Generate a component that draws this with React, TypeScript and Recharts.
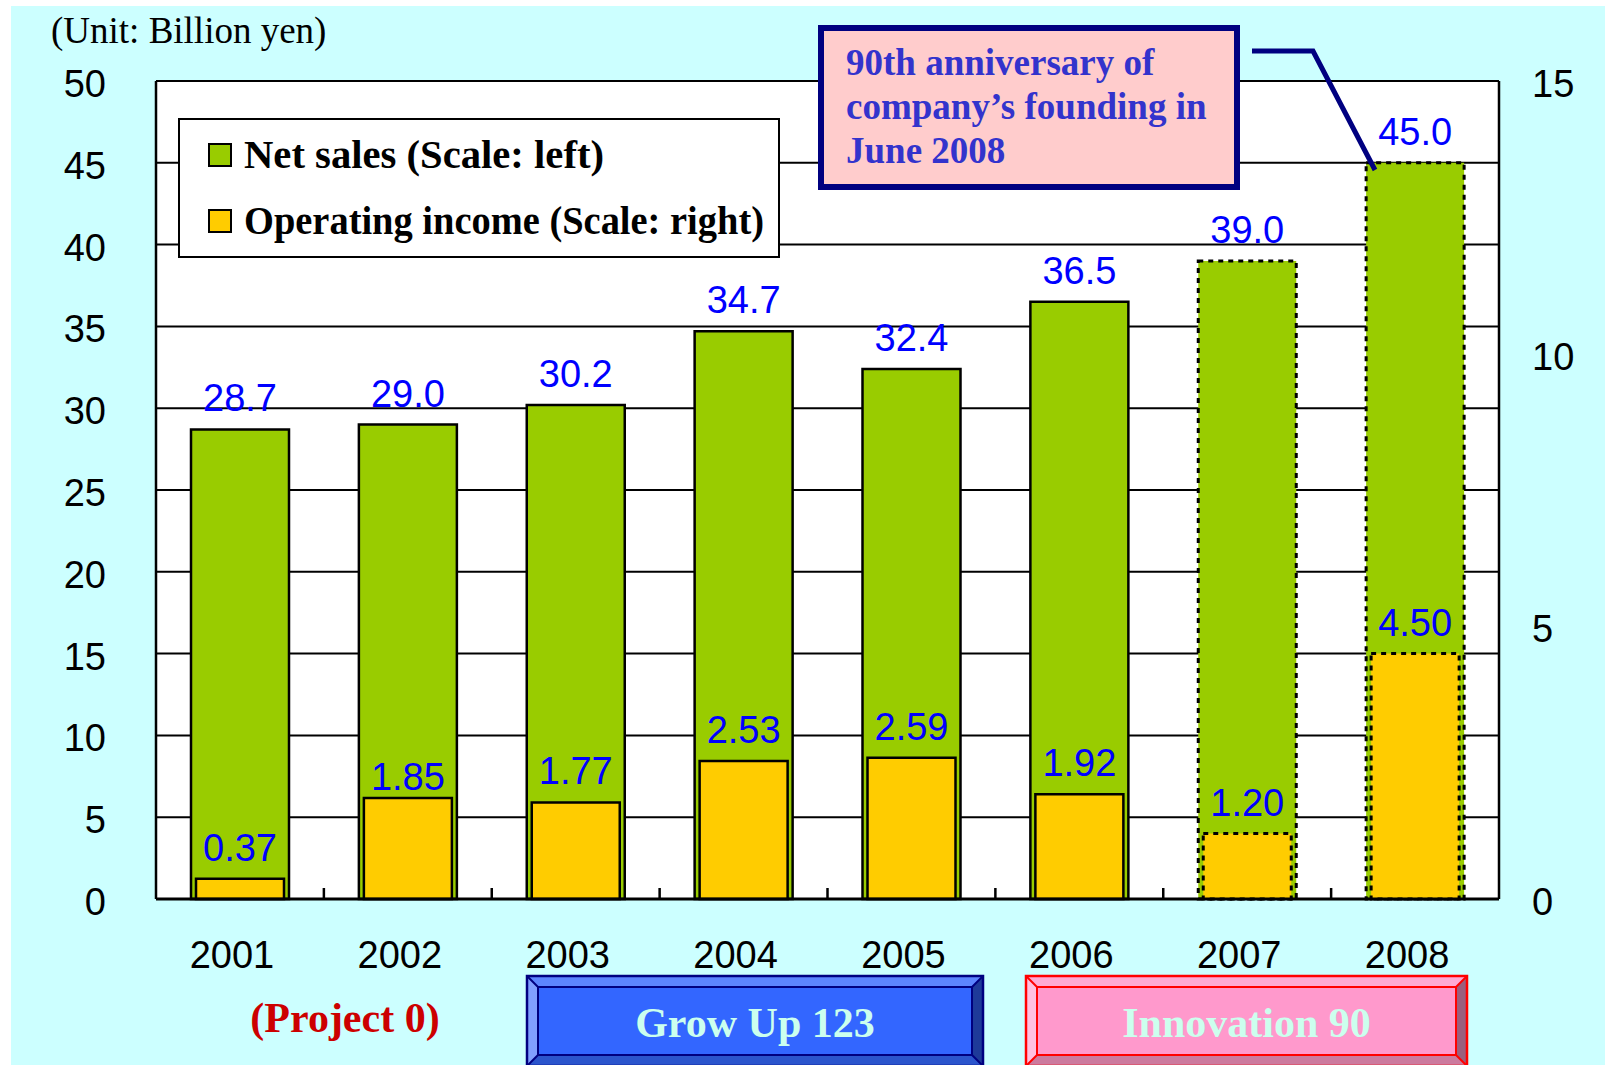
import React from 'react';
import { BarChart, Bar, XAxis, YAxis, CartesianGrid, Cell, LabelList, Legend } from 'recharts';

const years = ['2001', '2002', '2003', '2004', '2005', '2006', '2007', '2008'];
const netSales = [28.7, 29.0, 30.2, 34.7, 32.4, 36.5, 39.0, 45.0];
const operatingIncome = [0.37, 1.85, 1.77, 2.53, 2.59, 1.92, 1.2, 4.5];
const isForecast = [false, false, false, false, false, false, true, true];
const leftTicks = [0, 5, 10, 15, 20, 25, 30, 35, 40, 45, 50];
const rightTicks = [0, 5, 10, 15];
const seriesNames = ['Net sales (Scale: left)', 'Operating income (Scale: right)'];
const annotationLines = ['90th anniversary of', 'company\u2019s founding in', 'June 2008'];

const data = years.map((year, i) => ({
  year,
  sales: netSales[i],
  income: operatingIncome[i],
  salesLabel: netSales[i].toFixed(1),
  incomeLabel: operatingIncome[i].toFixed(2),
}));

const W = 1605;
const H = 1065;
const PLOT_LEFT = 156;
const PLOT_RIGHT = 1499;
const PLOT_TOP = 81;
const PLOT_BOTTOM = 899;
const BAND = (PLOT_RIGHT - PLOT_LEFT) / years.length;
const LEGEND_TEXT_LEN = [360, 520];

const SANS = '"Liberation Sans", Arial, sans-serif';
const SERIF = '"Liberation Serif", "Times New Roman", serif';
const GREEN = '#99CC00';
const YELLOW = '#FFCC00';
const LABEL_BLUE = '#0000FF';

const XTick = (props: any) => {
  const { x, y, payload, index } = props;
  return (
    <g>
      {index > 0 && (
        <line x1={x - BAND / 2} x2={x - BAND / 2} y1={PLOT_BOTTOM} y2={PLOT_BOTTOM - 11} stroke="#000" strokeWidth={2.5} />
      )}
      <text x={x - 8} y={y + 27} textAnchor="middle" fontFamily={SANS} fontSize={38} fill="#000">
        {payload.value}
      </text>
    </g>
  );
};

const LeftTick = (props: any) => {
  const { x, y, payload } = props;
  return (
    <text x={x} y={y + 16} textAnchor="end" fontFamily={SANS} fontSize={38} fill="#000">
      {payload.value}
    </text>
  );
};

const RightTick = (props: any) => {
  const { x, y, payload } = props;
  return (
    <text x={x} y={y + 16} textAnchor="start" fontFamily={SANS} fontSize={38} fill="#000">
      {payload.value}
    </text>
  );
};

const IncomeLabel = (props: any) => {
  const { x, y, width, value, index } = props;
  const off = index === 1 ? 8 : 18;
  return (
    <text x={x + width / 2} y={y - off} textAnchor="middle" fontFamily={SANS} fontSize={38} fill={LABEL_BLUE}>
      {value}
    </text>
  );
};

const LegendBox = (props: any) => {
  const payload = props.payload || [];
  return (
    <svg width={602} height={140} style={{ display: 'block' }}>
      <rect x={1} y={1} width={600} height={138} fill="#fff" stroke="#000" strokeWidth={2} />
      {payload.map((p: any, i: number) => (
        <g key={i}>
          <rect x={31} y={26 + i * 66} width={22} height={22} fill={p.color} stroke="#000" strokeWidth={2} />
          <text
            x={66}
            y={50 + i * 66}
            fontFamily={SERIF}
            fontWeight="bold"
            fontSize={39}
            fill="#000"
            textLength={LEGEND_TEXT_LEN[i]}
            lengthAdjust="spacingAndGlyphs"
          >
            {p.value}
          </text>
        </g>
      ))}
    </svg>
  );
};

const Banner = ({ x0, y0, x1, y1, b, border, top, left, right, bottom, face, text }: any) => (
  <g>
    <polygon points={`${x0},${y0} ${x1},${y0} ${x1 - b},${y0 + b} ${x0 + b},${y0 + b}`} fill={top} />
    <polygon points={`${x0},${y0} ${x0 + b},${y0 + b} ${x0 + b},${y1 - b} ${x0},${y1}`} fill={left} />
    <polygon points={`${x1},${y0} ${x1},${y1} ${x1 - b},${y1 - b} ${x1 - b},${y0 + b}`} fill={right} />
    <polygon points={`${x0},${y1} ${x1},${y1} ${x1 - b},${y1 - b} ${x0 + b},${y1 - b}`} fill={bottom} />
    <rect x={x0 + b} y={y0 + b} width={x1 - x0 - 2 * b} height={y1 - y0 - 2 * b} fill={face} stroke={border} strokeWidth={2} />
    <rect x={x0} y={y0} width={x1 - x0} height={y1 - y0} fill="none" stroke={border} strokeWidth={2.5} />
    <line x1={x0} y1={y0} x2={x0 + b} y2={y0 + b} stroke={border} strokeWidth={2} />
    <line x1={x1} y1={y0} x2={x1 - b} y2={y0 + b} stroke={border} strokeWidth={2} />
    <line x1={x0} y1={y1} x2={x0 + b} y2={y1 - b} stroke={border} strokeWidth={2} />
    <line x1={x1} y1={y1} x2={x1 - b} y2={y1 - b} stroke={border} strokeWidth={2} />
    <text x={(x0 + x1) / 2} y={1037} textAnchor="middle" fontFamily={SERIF} fontWeight="bold" fontSize={42} fill="#CCFFEE">
      {text}
    </text>
  </g>
);

export default function App() {
  return (
    <div style={{ position: 'absolute', left: 0, top: 0, width: W, height: H, background: '#fff', overflow: 'hidden' }}>
      <div style={{ position: 'absolute', left: 11, top: 6, width: W - 11, height: H - 6, background: '#CCFFFF' }} />
      <div style={{ position: 'absolute', left: 0, top: 0 }}>
        <BarChart width={W} height={H} data={data} margin={{ top: PLOT_TOP, right: 0, bottom: 0, left: 0 }}>
          <CartesianGrid
            xAxisId="sales"
            yAxisId="left"
            vertical={false}
            stroke="#000"
            strokeWidth={2}
            fill="#fff"
            fillOpacity={1}
          />
          <XAxis
            xAxisId="sales"
            dataKey="year"
            height={H - PLOT_BOTTOM}
            interval={0}
            tickSize={0}
            tickMargin={42}
            tickLine={false}
            axisLine={{ stroke: '#000', strokeWidth: 3 }}
            tick={<XTick />}
          />
          <XAxis xAxisId="income" dataKey="year" hide height={0} />
          <YAxis
            yAxisId="left"
            orientation="left"
            width={PLOT_LEFT}
            domain={[0, 50]}
            ticks={leftTicks}
            interval={0}
            tickSize={0}
            tickMargin={50}
            tickLine={false}
            axisLine={{ stroke: '#000', strokeWidth: 2.5 }}
            tick={<LeftTick />}
          />
          <YAxis
            yAxisId="right"
            orientation="right"
            width={W - PLOT_RIGHT}
            domain={[0, 15]}
            ticks={rightTicks}
            interval={0}
            tickSize={0}
            tickMargin={33}
            tickLine={false}
            axisLine={{ stroke: '#000', strokeWidth: 2.5 }}
            tick={<RightTick />}
          />
          <Legend
            layout="horizontal"
            verticalAlign="middle"
            align="center"
            content={<LegendBox />}
            wrapperStyle={{ left: 178, top: 118, width: 602, height: 140 }}
          />
          <Bar
            xAxisId="sales"
            yAxisId="left"
            dataKey="sales"
            name={seriesNames[0]}
            fill={GREEN}
            stroke="#000"
            strokeWidth={2.5}
            barSize={98}
            isAnimationActive={false}
          >
            {data.map((d, i) => (
              <Cell
                key={d.year}
                fill={GREEN}
                stroke="#000"
                strokeWidth={isForecast[i] ? 3 : 2.5}
                strokeDasharray={isForecast[i] ? '5 5' : undefined}
              />
            ))}
            <LabelList dataKey="salesLabel" position="top" offset={18} fill={LABEL_BLUE} fontSize={38} fontFamily={SANS} />
          </Bar>
          <Bar
            xAxisId="income"
            yAxisId="right"
            dataKey="income"
            name={seriesNames[1]}
            fill={YELLOW}
            stroke="#000"
            strokeWidth={2.5}
            barSize={88}
            isAnimationActive={false}
          >
            {data.map((d, i) => (
              <Cell
                key={d.year}
                fill={YELLOW}
                stroke="#000"
                strokeWidth={isForecast[i] ? 3 : 2.5}
                strokeDasharray={isForecast[i] ? '5 5' : undefined}
              />
            ))}
            <LabelList dataKey="incomeLabel" content={<IncomeLabel />} />
          </Bar>
        </BarChart>
      </div>
      <svg width={W} height={H} style={{ position: 'absolute', left: 0, top: 0, pointerEvents: 'none' }}>
        <text x={51} y={43} fontFamily={SERIF} fontSize={37} fill="#000">
          (Unit: Billion yen)
        </text>
        <polyline points="1252,51 1313,51 1375,170" fill="none" stroke="#000080" strokeWidth={5} />
        <rect x={821} y={28} width={416} height={159} fill="#FFCCCC" stroke="#000080" strokeWidth={6} />
        {annotationLines.map((line, i) => (
          <text key={i} x={846} y={75 + i * 44} fontFamily={SERIF} fontWeight="bold" fontSize={37} fill="#3333CC">
            {line}
          </text>
        ))}
        <text x={345} y={1032} textAnchor="middle" fontFamily={SERIF} fontWeight="bold" fontSize={42} fill="#CC0000">
          (Project 0)
        </text>
        <Banner
          x0={527}
          y0={976}
          x1={983}
          y1={1066}
          b={11}
          border="#000080"
          top="#5C85FF"
          left="#809FFF"
          right="#1E3A99"
          bottom="#2B55CC"
          face="#3366FF"
          text="Grow Up 123"
        />
        <Banner
          x0={1026}
          y0={976}
          x1={1467}
          y1={1066}
          b={11}
          border="#FF0000"
          top="#FFAAD4"
          left="#FFC0E0"
          right="#9A5F7D"
          bottom="#CC7A9E"
          face="#FF99CC"
          text="Innovation 90"
        />
      </svg>
    </div>
  );
}
